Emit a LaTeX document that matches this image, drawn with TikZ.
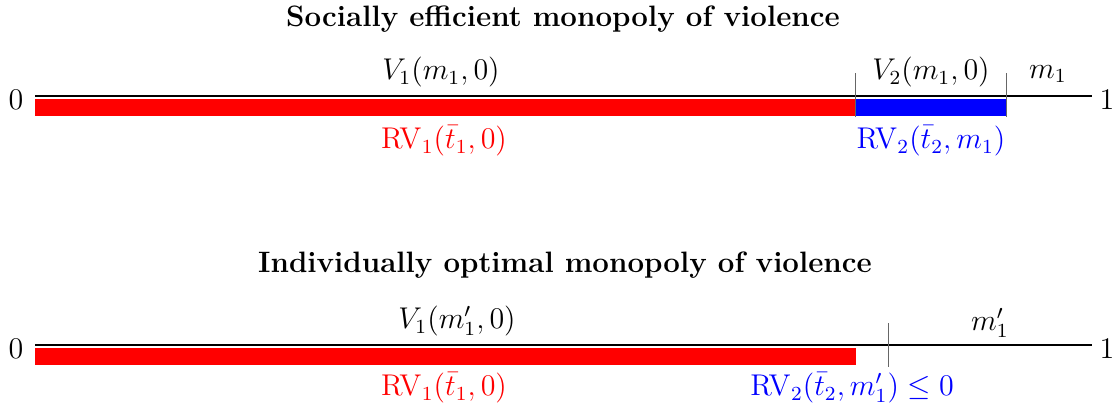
\documentclass[tikz,border=0pt]{standalone}
\usepackage{fix-cm}
\usepackage{amsmath}
\begin{document}
\begin{tikzpicture}[x=0.4pt,y=-0.4pt,
  axis/.style={line width=0.8pt,black},
  tickmark/.style={line width=0.4pt,black!60},
  lbl/.style={inner sep=0pt,anchor=center,font=\fontsize{12}{14}\selectfont},
  title/.style={inner sep=0pt,font=\fontsize{11.8}{14}\selectfont\bfseries}]
\useasboundingbox (0,0) rectangle (1120,413);
% ---- top panel
\node[title] (t1) at (563,19) {Socially efficient monopoly of violence};
\coordinate (a0) at (35,96);
\coordinate (a1) at (1092,96);
\fill[red] (35,99) rectangle (855,116);
\fill[blue] (855,99) rectangle (1006,116);
\draw[axis] (a0) -- (a1);
\coordinate (k1t) at (855,73); \coordinate (k1b) at (855,117);
\coordinate (k2t) at (1006,73); \coordinate (k2b) at (1006,117);
\draw[tickmark] (k1t) -- (k1b);
\draw[tickmark] (k2t) -- (k2b);
\node[lbl] (z0) at (16,100) {$0$};
\node[lbl] (z1) at (1107,100) {$1$};
\node[lbl] (v1) at (441,72) {$V_1(m_1,0)$};
\node[lbl] (v2) at (931,72) {$V_2(m_1,0)$};
\node[lbl] (m1) at (1048,74) {$m_1$};
\node[lbl,red] (r1) at (444,141) {$\mathrm{RV}_1(\bar t_1,0)$};
\node[lbl,blue] (r2) at (931,141) {$\mathrm{RV}_2(\bar t_2,m_1)$};
% ---- bottom panel
\node[title] (t2) at (565,265) {Individually optimal monopoly of violence};
\coordinate (b0) at (35,345);
\coordinate (b1) at (1092,345);
\fill[red] (35,348) rectangle (856,365);
\draw[axis] (b0) -- (b1);
\coordinate (k3t) at (888,323); \coordinate (k3b) at (888,367);
\draw[tickmark] (k3t) -- (k3b);
\node[lbl] (y0) at (16,349) {$0$};
\node[lbl] (y1) at (1107,349) {$1$};
\node[lbl] (w1) at (457,321) {$V_1(m_1',0)$};
\node[lbl] (n1) at (990,323) {$m_1'$};
\node[lbl,red] (s1) at (444,388) {$\mathrm{RV}_1(\bar t_1,0)$};
\node[lbl,blue] (s2) at (852,388) {$\mathrm{RV}_2(\bar t_2,m_1')\leq 0$};
\end{tikzpicture}
\end{document}
